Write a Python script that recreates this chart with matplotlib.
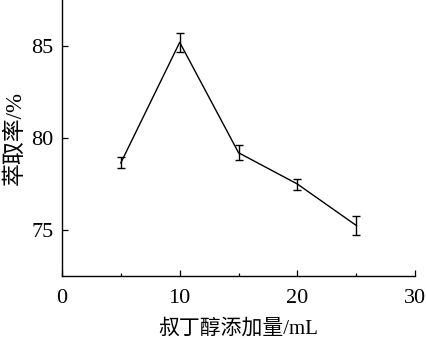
import numpy as np
import matplotlib
matplotlib.use("Agg")
import matplotlib.pyplot as plt
from matplotlib.ticker import MultipleLocator

plt.rcParams["font.family"] = ["Liberation Serif", "Noto Sans CJK SC"]
plt.rcParams["font.size"] = 16

# data
volume = [5, 10, 15, 20, 25]            # 叔丁醇添加量 (mL)
rate = [78.65, 85.2, 79.2, 77.5, 75.25]  # 萃取率 (%)
err = [0.3, 0.5, 0.4, 0.3, 0.5]

fig = plt.figure(figsize=(4.26, 3.40), dpi=100)
ax = fig.add_axes([0.1455, 0.188, 0.829, 0.812])

ax.errorbar(volume, rate, yerr=err, color="black", lw=1.0, elinewidth=1.0,
            capsize=3, capthick=1.0)

ax.set_xlim(0, 30)
ax.set_ylim(72.5, 87.5)
ax.xaxis.set_major_locator(MultipleLocator(10))
ax.xaxis.set_minor_locator(MultipleLocator(5))
ax.yaxis.set_major_locator(MultipleLocator(5))
ax.tick_params(which="major", direction="in", length=4, width=0.9)
ax.tick_params(which="minor", direction="in", length=2.5, width=0.9)
ax.tick_params(axis="x", which="major", pad=9)
ax.tick_params(axis="y", which="major", pad=6)
ax.tick_params(axis="y", which="minor", left=False)
for s in ("top", "right"):
    ax.spines[s].set_visible(False)
for s in ("left", "bottom"):
    ax.spines[s].set_linewidth(1.0)

ax.set_xlabel("叔丁醇添加量/mL", fontsize=15, labelpad=8)
ax.set_ylabel("萃取率/%", fontsize=16.5, labelpad=4)

fig.savefig("out.png", dpi=100)
